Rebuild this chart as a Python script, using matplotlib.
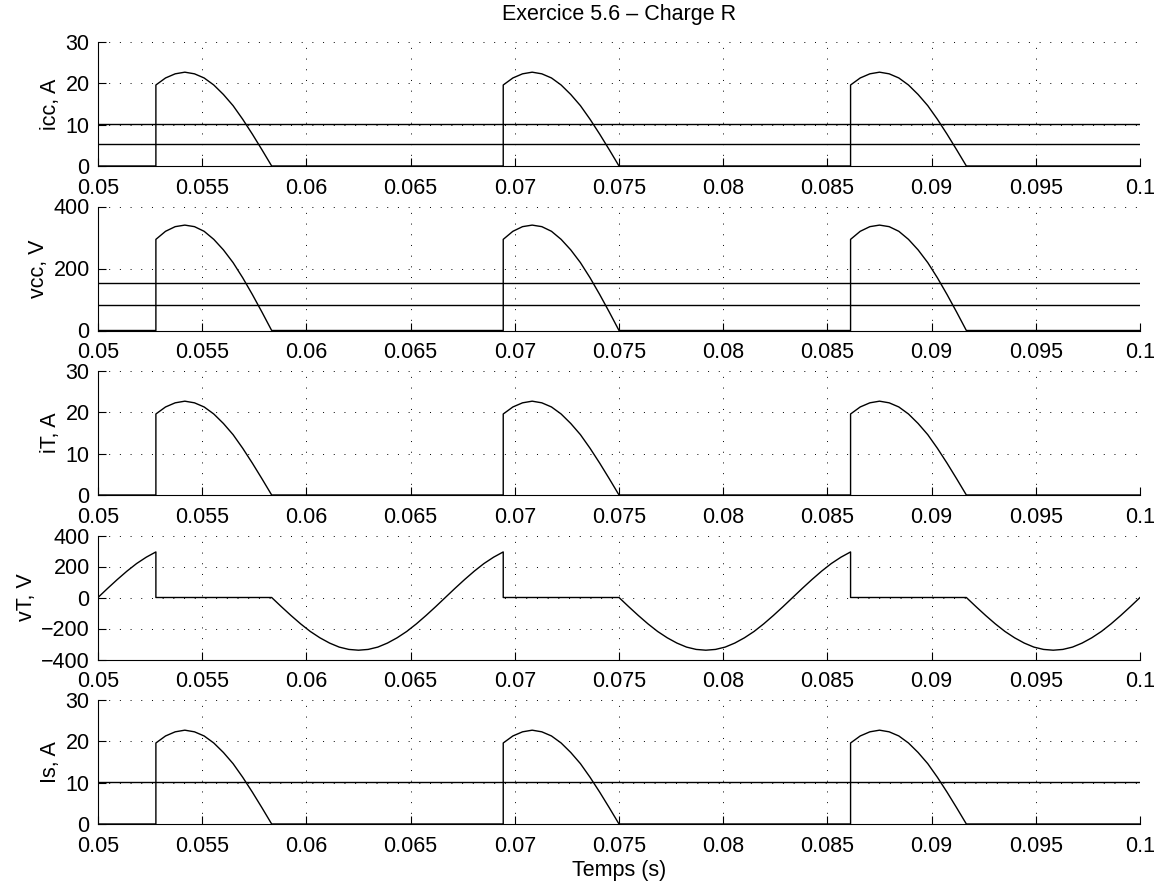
import numpy as np
import matplotlib
matplotlib.use('Agg')
import matplotlib.pyplot as plt
from matplotlib.ticker import FuncFormatter

plt.rcParams['font.family'] = ['Liberation Sans', 'DejaVu Sans']

# Values (60 Hz supply, 3 periods from 0.05 s to 0.1 s)
t_start = 0.05
period = 0.016667
n_periods = 3

# source voltage over one period, every 10 degrees
angle_deg = list(range(0, 361, 10))
vs_V = [0, 59, 116, 170, 219, 260, 294, 320, 335, 340, 335, 320, 294, 260, 219, 170, 116, 59,
        0, -59, -116, -170, -219, -260, -294, -320, -335, -340, -335, -320, -294, -260, -219,
        -170, -116, -59, 0]

# conduction interval (firing at 60 deg, extinction at 180 deg)
cond_deg = [60, 70, 80, 90, 100, 110, 120, 130, 140, 150, 160, 170, 180]
icc_A = [19.6, 21.3, 22.3, 22.7, 22.3, 21.3, 19.6, 17.3, 14.6, 11.3, 7.7, 3.9, 0]
vcc_V = [294, 320, 335, 340, 335, 320, 294, 260, 219, 170, 116, 59, 0]

# average / rms lines
icc_avg, icc_rms = 5.4, 10.1
vcc_avg, vcc_rms = 81, 152
is_rms = 10.1


def deg_to_t(a, k):
    return t_start + k * period + np.asarray(a) / 360.0 * period


def pulse_series(vals):
    # zero before firing, vertical step at firing, zero after extinction
    t, y = [], []
    for k in range(n_periods):
        t += list(deg_to_t([0, cond_deg[0]], k)) + list(deg_to_t(cond_deg, k)) + list(deg_to_t([360], k))
        y += [0, 0] + list(vals) + [0]
    return np.array(t), np.array(y)


def vt_series():
    t, y = [], []
    for k in range(n_periods):
        for a, v in zip(angle_deg, vs_V):
            if a < cond_deg[0]:
                t.append(deg_to_t(a, k)); y.append(v)
        t += list(deg_to_t([cond_deg[0], cond_deg[0], cond_deg[-1]], k))
        y += [vs_V[angle_deg.index(cond_deg[0])], 0, 0]
        for a, v in zip(angle_deg, vs_V):
            if a > cond_deg[-1]:
                t.append(deg_to_t(a, k)); y.append(v)
    return np.array(t), np.array(y)


t_i, y_i = pulse_series(icc_A)
t_v, y_v = pulse_series(vcc_V)
t_vt, y_vt = vt_series()

fmt = FuncFormatter(lambda v, p: ('%g' % v).replace('-', '\u2212'))

fig = plt.figure(figsize=(11.59, 8.83), dpi=100)

left = 98 / 1159
width = (1140 - 98) / 1159
h_px = 124
step_px = 164.5
top0 = 42
fs = 15.5

panels = [
    ('icc, A', t_i, y_i, (0, 30), [0, 10, 20, 30], [icc_rms, icc_avg]),
    ('vcc, V', t_v, y_v, (0, 400), [0, 200, 400], [vcc_rms, vcc_avg]),
    ('iT, A', t_i, y_i, (0, 30), [0, 10, 20, 30], []),
    ('vT, V', t_vt, y_vt, (-400, 400), [-400, -200, 0, 200, 400], []),
    ('Is, A', t_i, y_i, (0, 30), [0, 10, 20, 30], [is_rms]),
]

xticks = [0.05, 0.055, 0.06, 0.065, 0.07, 0.075, 0.08, 0.085, 0.09, 0.095, 0.1]

axes = []
for i, (lab, t, y, ylim, yt, hl) in enumerate(panels):
    top = top0 + step_px * i
    bottom = 1 - (top + h_px) / 883
    ax = fig.add_axes([left, bottom, width, h_px / 883])
    ax.plot(t, y, color='black', lw=1.0)
    for h in hl:
        ax.plot([t_start, t_start + n_periods * period], [h, h], color='black', lw=1.0)
    ax.set_xlim(0.05, 0.1)
    ax.set_ylim(*ylim)
    ax.set_xticks(xticks)
    ax.set_yticks(yt)
    ax.xaxis.set_major_formatter(fmt)
    ax.yaxis.set_major_formatter(fmt)
    ax.grid(True, color='black', linestyle=(0, (1, 10)), lw=0.7)
    ax.spines['top'].set_visible(False)
    ax.spines['right'].set_visible(False)
    ax.tick_params(direction='in', length=6, labelsize=fs)
    ax.tick_params(axis='x', pad=8.5)
    ax.tick_params(axis='y', pad=6)
    ax.set_ylabel(lab, fontsize=fs, labelpad=3)
    axes.append(ax)

axes[0].set_title('Exercice 5.6 \u2013 Charge R', fontsize=fs, pad=16)
axes[-1].set_xlabel('Temps (s)', fontsize=fs, labelpad=2)

fig.savefig('out.png', dpi=100, facecolor='white')
